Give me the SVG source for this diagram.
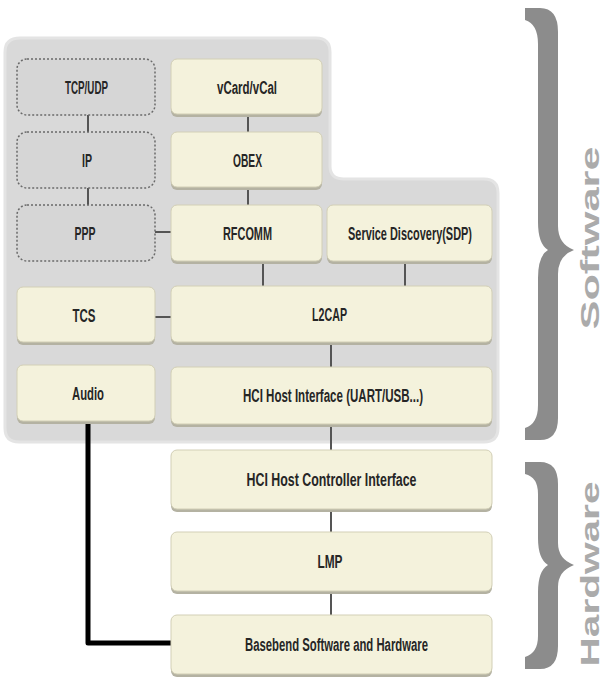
<svg xmlns="http://www.w3.org/2000/svg" width="604" height="682" viewBox="0 0 604 682">
<style>
.n{fill:#f4f2dc;stroke:#d2cfb6;stroke-width:1}
.sh{fill:#b4b2a2}
.d{fill:#d6d6d6;stroke:#6a6a6a;stroke-width:1.5;stroke-dasharray:2 2}
.t{font-family:"Liberation Sans",Arial,sans-serif;font-weight:bold;font-size:18px;fill:#262626;text-anchor:middle}
.c{stroke:#555;stroke-width:2;fill:none}
.br{fill:#8c8c8c}
.bt{font-family:"Liberation Sans",Arial,sans-serif;font-weight:bold;font-size:25px;fill:#ababab;text-anchor:middle}
</style>
<rect width="604" height="682" fill="#ffffff"/>
<g id="container">
<path d="M20,38 H316 Q330,38 330,52 V166 Q330,179 344,179 H484 Q498,179 498,193 V428 Q498,442 484,442 H19 Q5,442 5,428 V52 Q5,38 20,38 Z" fill="#d9d9d9" stroke="#e4e4e4" stroke-width="3"/>
</g>
<g id="connectors">
<line class="c" x1="88" y1="115" x2="88" y2="132"/>
<line class="c" x1="88" y1="188" x2="88" y2="205"/>
<line class="c" x1="248" y1="115" x2="248" y2="132"/>
<line class="c" x1="248" y1="188" x2="248" y2="205"/>
<line class="c" x1="155" y1="232" x2="171" y2="232"/>
<line class="c" x1="263" y1="262" x2="263" y2="286"/>
<line class="c" x1="405" y1="262" x2="405" y2="286"/>
<line class="c" x1="155" y1="317" x2="171" y2="317"/>
<line class="c" x1="331" y1="343" x2="331" y2="367"/>
<line class="c" x1="331" y1="425" x2="331" y2="450"/>
<line class="c" x1="331" y1="510" x2="331" y2="532"/>
<line class="c" x1="331" y1="592" x2="331" y2="615"/>
<path d="M88,422 V643 H171" stroke="#000" stroke-width="5" fill="none" stroke-linejoin="round"/>
</g>
<g id="tcpudp"><rect class="d" x="17" y="59" width="138" height="56" rx="10"/><text class="t" x="86.5" y="94" textLength="43" lengthAdjust="spacingAndGlyphs">TCP/UDP</text></g>
<g id="ip"><rect class="d" x="17" y="132" width="138" height="56" rx="10"/><text class="t" x="87" y="167" textLength="10" lengthAdjust="spacingAndGlyphs">IP</text></g>
<g id="ppp"><rect class="d" x="17" y="205" width="138" height="56" rx="10"/><text class="t" x="85" y="240" textLength="21" lengthAdjust="spacingAndGlyphs">PPP</text></g>
<g id="vcard"><rect class="sh" x="171" y="61" width="151" height="56" rx="6"/><rect class="n" x="171" y="59" width="151" height="55" rx="6"/><text class="t" x="247" y="94" textLength="60" lengthAdjust="spacingAndGlyphs">vCard/vCal</text></g>
<g id="obex"><rect class="sh" x="171" y="134" width="151" height="56" rx="6"/><rect class="n" x="171" y="132" width="151" height="55" rx="6"/><text class="t" x="247.5" y="167" textLength="29" lengthAdjust="spacingAndGlyphs">OBEX</text></g>
<g id="rfcomm"><rect class="sh" x="171" y="207" width="151" height="57" rx="6"/><rect class="n" x="171" y="205" width="151" height="56" rx="6"/><text class="t" x="247.5" y="240" textLength="49" lengthAdjust="spacingAndGlyphs">RFCOMM</text></g>
<g id="sdp"><rect class="sh" x="327" y="207" width="165" height="57" rx="6"/><rect class="n" x="327" y="205" width="165" height="56" rx="6"/><text class="t" x="410" y="240" textLength="124" lengthAdjust="spacingAndGlyphs">Service Discovery(SDP)</text></g>
<g id="tcs"><rect class="sh" x="17" y="289" width="138" height="56" rx="6"/><rect class="n" x="17" y="287" width="138" height="55" rx="6"/><text class="t" x="84" y="322" textLength="23" lengthAdjust="spacingAndGlyphs">TCS</text></g>
<g id="l2cap"><rect class="sh" x="171" y="288" width="321" height="57" rx="6"/><rect class="n" x="171" y="286" width="321" height="56" rx="6"/><text class="t" x="329.5" y="321" textLength="35" lengthAdjust="spacingAndGlyphs">L2CAP</text></g>
<g id="audio"><rect class="sh" x="17" y="367" width="138" height="57" rx="6"/><rect class="n" x="17" y="365" width="138" height="56" rx="6"/><text class="t" x="88" y="400" textLength="32" lengthAdjust="spacingAndGlyphs">Audio</text></g>
<g id="hcihost"><rect class="sh" x="171" y="369" width="321" height="58" rx="6"/><rect class="n" x="171" y="367" width="321" height="57" rx="6"/><text class="t" x="333" y="402" textLength="180" lengthAdjust="spacingAndGlyphs">HCI Host Interface (UART/USB...)</text></g>
<g id="hcictrl"><rect class="sh" x="171" y="452" width="321" height="60" rx="6"/><rect class="n" x="171" y="450" width="321" height="59" rx="6"/><text class="t" x="331.5" y="486" textLength="170" lengthAdjust="spacingAndGlyphs">HCI Host Controller Interface</text></g>
<g id="lmp"><rect class="sh" x="171" y="534" width="321" height="60" rx="6"/><rect class="n" x="171" y="532" width="321" height="59" rx="6"/><text class="t" x="330" y="568" textLength="25" lengthAdjust="spacingAndGlyphs">LMP</text></g>
<g id="basebend"><rect class="sh" x="171" y="617" width="321" height="60" rx="6"/><rect class="n" x="171" y="615" width="321" height="59" rx="6"/><text class="t" x="336.5" y="651" textLength="183" lengthAdjust="spacingAndGlyphs">Basebend Software and Hardware</text></g>
<g id="software-brace">
<path class="br" d="M525,8 H540 Q558,8 558,32 V226 Q558,244 574,250 Q558,256 558,274 V418 Q558,440 540,440 H525 V428 Q538,424 538,405 V278 Q538,256 548,250 Q538,244 538,222 V44 Q538,24 525,20 Z"/>
<text class="bt" transform="translate(599,238) rotate(-90)" textLength="183" lengthAdjust="spacingAndGlyphs">Software</text>
</g>
<g id="hardware-brace">
<path class="br" d="M525,462 H540 Q558,462 558,484 V543 Q558,559 574,565 Q558,571 558,587 V646 Q558,669 540,669 H525 V657 Q538,653 538,636 V592 Q538,571 548,565 Q538,559 538,538 V494 Q538,477 525,474 Z"/>
<text class="bt" transform="translate(599,574) rotate(-90)" textLength="185" lengthAdjust="spacingAndGlyphs">Hardware</text>
</g>
</svg>
